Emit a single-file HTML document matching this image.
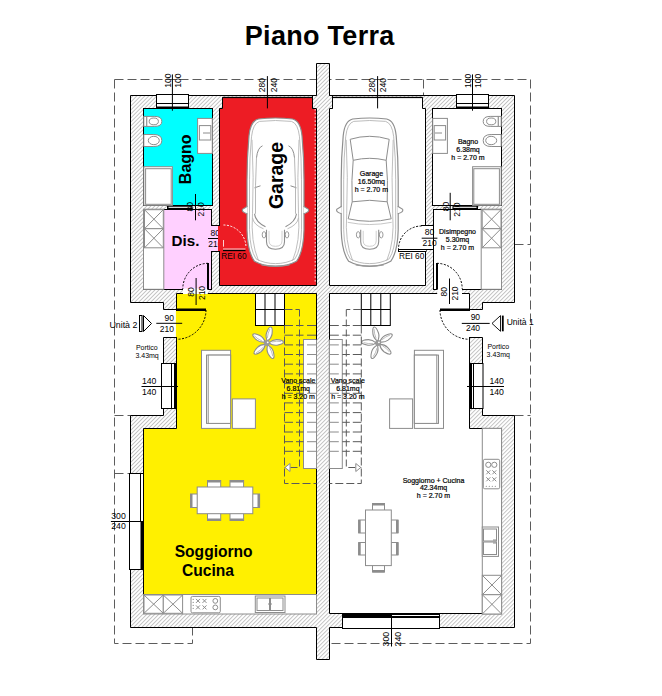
<!DOCTYPE html><html><head><meta charset="utf-8"><style>html,body{margin:0;padding:0;background:#fff;width:662px;height:696px;overflow:hidden}svg{display:block}text{font-family:"Liberation Sans",sans-serif}</style></head><body>
<svg width="662" height="696" viewBox="0 0 662 696">
<defs><clipPath id="cl"><rect x="0" y="0" width="218.2" height="696"/></clipPath><pattern id="h" patternUnits="userSpaceOnUse" width="2.83" height="20" patternTransform="rotate(45)"><rect x="0" y="0" width="0.75" height="20" fill="#b4b4b4"/></pattern></defs>
<rect width="662" height="696" fill="#fff"/>
<text x="244.8" y="44.6" font-size="27" font-weight="bold" text-anchor="start" fill="#000" textLength="149.5" lengthAdjust="spacing">Piano Terra</text>
<path d="M114.5,79.5 H530.5 V643.5 H329.5" stroke="#5c5c5c" stroke-width="1" stroke-dasharray="9,4" fill="none"/>
<path d="M114.5,79.5 V643.5 H192.5 V627.5" stroke="#5c5c5c" stroke-width="1" stroke-dasharray="9,4" fill="none"/>
<path d="M423.5,79.5 V95.5" stroke="#5c5c5c" stroke-width="1" stroke-dasharray="9,4" fill="none"/>
<path d="M114.5,415.5 H130.5 M114.5,473.5 H130.5 M514.5,415.5 H530.5 M514.5,244.5 H530.5" stroke="#5c5c5c" stroke-width="1" stroke-dasharray="9,4" fill="none"/>
<polygon points="323,63.5 316.5,63.5 316.5,95.5 130.5,95.5 130.5,302.5 163.5,302.5 163.5,309.5 176.5,309.5 176.5,337.5 163.5,337.5 163.5,415.5 130.5,415.5 130.5,627.5 316.5,627.5 316.5,659.5 323,659.5 323,659.5 329.5,659.5 329.5,627.5 514.5,627.5 514.5,415.5 482.5,415.5 482.5,337.5 469.5,337.5 469.5,309.5 482.5,309.5 482.5,302.5 514.5,302.5 514.5,95.5 329.5,95.5 329.5,63.5 323,63.5" fill="#fff" stroke="none"/>
<polygon points="323,63.5 316.5,63.5 316.5,95.5 130.5,95.5 130.5,302.5 163.5,302.5 163.5,309.5 176.5,309.5 176.5,337.5 163.5,337.5 163.5,415.5 130.5,415.5 130.5,627.5 316.5,627.5 316.5,659.5 323,659.5 323,659.5 329.5,659.5 329.5,627.5 514.5,627.5 514.5,415.5 482.5,415.5 482.5,337.5 469.5,337.5 469.5,309.5 482.5,309.5 482.5,302.5 514.5,302.5 514.5,95.5 329.5,95.5 329.5,63.5 323,63.5" fill="url(#h)" stroke="#000" stroke-width="1"/>
<polygon points="222.5,97.5 312.5,97.5 312.5,108.5 316.5,108.5 316.5,285.5 219.5,285.5 219.5,108.5 222.5,108.5" fill="#ed1c24" stroke="#000" stroke-width="1"/>
<rect x="222.5" y="95" width="90.0" height="1.2" fill="#000" stroke="none" stroke-width="1" />
<rect x="222.5" y="97" width="90.0" height="1.1" fill="#000" stroke="none" stroke-width="1" />
<rect x="143.5" y="108.5" width="69.0" height="97.0" fill="#00ffff" stroke="#000" stroke-width="1" />
<rect x="143.5" y="209.5" width="68.0" height="80.0" fill="#ffd0ff" stroke="#000" stroke-width="1" />
<rect x="211" y="226" width="7.5" height="25" fill="#ffd0ff" stroke="none" stroke-width="1" />
<rect x="218" y="226" width="3" height="25" fill="#ed1c24" stroke="none" stroke-width="1" />
<line x1="211.5" y1="225.5" x2="219.5" y2="225.5" stroke="#000" stroke-width="1" />
<line x1="211.5" y1="251.5" x2="219.5" y2="251.5" stroke="#000" stroke-width="1" />
<polygon points="176.5,293.5 316.5,293.5 316.5,594.5 143.5,594.5 143.5,428.5 176.5,428.5" fill="#fff000" stroke="#000" stroke-width="1"/>
<rect x="183" y="288.5" width="24.8" height="5.5" fill="#fff" stroke="none" stroke-width="1" />
<polygon points="422.5,97.5 332.5,97.5 332.5,108.5 329.5,108.5 329.5,285.5 425.5,285.5 425.5,108.5 422.5,108.5" fill="#fff" stroke="#000" stroke-width="1"/>
<rect x="332.5" y="95" width="90.0" height="1.2" fill="#000" stroke="none" stroke-width="1" />
<rect x="332.5" y="97" width="90.0" height="1.1" fill="#000" stroke="none" stroke-width="1" />
<rect x="432.5" y="108.5" width="69.0" height="97.0" fill="#fff" stroke="#000" stroke-width="1" />
<rect x="433.5" y="209.5" width="68.0" height="80.0" fill="#fff" stroke="#000" stroke-width="1" />
<rect x="424.5" y="226" width="8.5" height="23" fill="#fff" stroke="none" stroke-width="1" />
<line x1="421" y1="225.5" x2="433.5" y2="225.5" stroke="#000" stroke-width="1" />
<line x1="425.5" y1="249.5" x2="433.5" y2="249.5" stroke="#000" stroke-width="1" />
<polygon points="469.5,293.5 329.5,293.5 329.5,613.5 501.5,613.5 501.5,428.5 469.5,428.5" fill="#fff" stroke="#000" stroke-width="1"/>
<rect x="437.2" y="288.5" width="24.8" height="5.5" fill="#fff" stroke="none" stroke-width="1" />
<rect x="312.5" y="96" width="20" height="12.5" fill="#fff"/>
<rect x="312.5" y="96" width="20" height="12.5" fill="url(#h)"/>
<path d="M316.5,95.5 H312.5 V108.5 H316.5 M329.5,95.5 H332.5 V108.5 H329.5" fill="none" stroke="#000" stroke-width="1"/>
<path d="M315.2,109 V284" fill="none" stroke="#fff" stroke-width="0.9" stroke-dasharray="1.6,2.2"/>
<rect x="156.5" y="94.5" width="32.0" height="13.0" fill="#fff" stroke="#000" stroke-width="1" />
<line x1="156.5" y1="103.5" x2="188.5" y2="103.5" stroke="#000" stroke-width="1" />
<rect x="156.0" y="106.5" width="33.0" height="1.8" fill="#000" stroke="none" stroke-width="1" />
<rect x="456.5" y="94.5" width="32.0" height="13.0" fill="#fff" stroke="#000" stroke-width="1" />
<line x1="456.5" y1="103.5" x2="488.5" y2="103.5" stroke="#000" stroke-width="1" />
<rect x="456.0" y="106.5" width="33.0" height="1.8" fill="#000" stroke="none" stroke-width="1" />
<rect x="161.5" y="363.5" width="15.0" height="45.0" fill="#fff" stroke="#000" stroke-width="1" />
<line x1="171.5" y1="363.5" x2="171.5" y2="408.5" stroke="#000" stroke-width="1" />
<rect x="174" y="363.5" width="3" height="45.0" fill="#000" stroke="none" stroke-width="1" />
<line x1="141.5" y1="386.5" x2="178" y2="386.5" stroke="#000" stroke-width="1" />
<rect x="469.5" y="363.5" width="13.5" height="45.0" fill="#fff" stroke="#000" stroke-width="1" />
<line x1="473.5" y1="363.5" x2="473.5" y2="408.5" stroke="#000" stroke-width="1" />
<rect x="469" y="363.5" width="3" height="45.0" fill="#000" stroke="none" stroke-width="1" />
<line x1="467" y1="386.5" x2="504" y2="386.5" stroke="#000" stroke-width="1" />
<rect x="129.5" y="473.5" width="14.0" height="96.0" fill="#fff" stroke="#000" stroke-width="1" />
<line x1="140.5" y1="473.5" x2="140.5" y2="521.5" stroke="#000" stroke-width="1" />
<line x1="110.9" y1="521.5" x2="143.5" y2="521.5" stroke="#000" stroke-width="1" />
<rect x="140.5" y="521.5" width="3.5" height="48.0" fill="#000" stroke="none" stroke-width="1" />
<rect x="342.5" y="614.5" width="97.0" height="14.0" fill="#fff" stroke="#000" stroke-width="1" />
<rect x="342.5" y="614" width="49.0" height="3.5" fill="#000" stroke="none" stroke-width="1" />
<line x1="391.5" y1="616.5" x2="439.5" y2="616.5" stroke="#000" stroke-width="1" />
<line x1="342.5" y1="617.5" x2="439.5" y2="617.5" stroke="#000" stroke-width="1" />
<line x1="391.5" y1="615" x2="391.5" y2="646.5" stroke="#000" stroke-width="1" />
<rect x="167" y="205" width="25.5" height="4.6" fill="#000" stroke="none" stroke-width="1" />
<line x1="168.5" y1="207.3" x2="191.5" y2="207.3" stroke="#fff" stroke-width="1.1" />
<rect x="452.5" y="205" width="25.5" height="4.6" fill="#000" stroke="none" stroke-width="1" />
<line x1="453.5" y1="207.3" x2="476.5" y2="207.3" stroke="#fff" stroke-width="1.1" />
<path d="M223.5,225 A22.5,22.5 0 0 1 246,247.5" stroke="#fff" fill="none" stroke-width="1" stroke-dasharray="2,1.5"/>
<line x1="223" y1="250.5" x2="245.5" y2="250.5" stroke="#000" stroke-width="1.3" />
<line x1="223" y1="249" x2="245.5" y2="249" stroke="#fff" stroke-width="0.8" />
<path d="M421.5,226 A23,23 0 0 0 398.5,249" stroke="#000" fill="none" stroke-width="1" stroke-dasharray="2,1.5"/>
<rect x="398.5" y="249.5" width="27.5" height="2.0" fill="#fff" stroke="#000" stroke-width="1" />
<rect x="207" y="263" width="2" height="26.5" fill="#000" stroke="none" stroke-width="1" />
<path d="M208,263.3 A25.5,25.5 0 0 0 182.8,289" stroke="#000" fill="none" stroke-width="1" stroke-dasharray="2,1.5"/>
<rect x="436" y="263" width="2" height="26.5" fill="#000" stroke="none" stroke-width="1" />
<path d="M437,263.3 A25.5,25.5 0 0 1 462.2,289" stroke="#000" fill="none" stroke-width="1" stroke-dasharray="2,1.5"/>
<rect x="176.5" y="308.5" width="29.5" height="2.5" fill="#000" stroke="none" stroke-width="1" />
<path d="M206,310 A29.5,29.5 0 0 1 176.8,339.3" stroke="#000" fill="none" stroke-width="1" stroke-dasharray="2,1.5"/>
<rect x="440" y="308.5" width="29.5" height="2.5" fill="#000" stroke="none" stroke-width="1" />
<path d="M440,310 A29.5,29.5 0 0 0 469.2,339.3" stroke="#000" fill="none" stroke-width="1" stroke-dasharray="2,1.5"/>
<rect x="175.9" y="311" width="1.4" height="26" fill="#fff000" stroke="none" stroke-width="1" />
<rect x="468.8" y="311" width="1.4" height="26" fill="#fff" stroke="none" stroke-width="1" />
<rect x="143.8" y="116.4" width="3" height="10" fill="#fff" stroke="#8c8c8c" stroke-width="1"/>
<path d="M146.8,116.4 H154.8 Q161.8,116.4 161.8,121.4 Q161.8,126.4 154.8,126.4 H146.8 Z" fill="#fff" stroke="#8c8c8c" stroke-width="1"/>
<ellipse cx="153.8" cy="121.4" rx="4.6" ry="3.4" fill="#fff" stroke="#8c8c8c" stroke-width="1"/>
<path d="M143.8,134.5 H153.8 Q161.8,134.5 161.8,140.5 Q161.8,146.5 153.8,146.5 H143.8 Z" fill="#fff" stroke="#8c8c8c" stroke-width="1"/>
<ellipse cx="153.8" cy="140.5" rx="5.5" ry="4.2" fill="#fff" stroke="#8c8c8c" stroke-width="1"/>
<rect x="498.2" y="116.4" width="3" height="10" fill="#fff" stroke="#8c8c8c" stroke-width="1"/>
<path d="M498.2,116.4 H490.2 Q483.2,116.4 483.2,121.4 Q483.2,126.4 490.2,126.4 H498.2 Z" fill="#fff" stroke="#8c8c8c" stroke-width="1"/>
<ellipse cx="491.2" cy="121.4" rx="4.6" ry="3.4" fill="#fff" stroke="#8c8c8c" stroke-width="1"/>
<path d="M501.2,134.5 H491.2 Q483.2,134.5 483.2,140.5 Q483.2,146.5 491.2,146.5 H501.2 Z" fill="#fff" stroke="#8c8c8c" stroke-width="1"/>
<ellipse cx="491.2" cy="140.5" rx="5.5" ry="4.2" fill="#fff" stroke="#8c8c8c" stroke-width="1"/>
<rect x="197.6" y="118.4" width="14.7" height="35.0" fill="#fff" stroke="#8c8c8c" stroke-width="1"/>
<rect x="199.4" y="125.6" width="11.4" height="14.4" fill="#fff" stroke="#8c8c8c" stroke-width="1"/>
<line x1="203" y1="133" x2="210" y2="133" stroke="#8c8c8c" stroke-width="1" />
<rect x="432.7" y="118.4" width="14.7" height="35.0" fill="#fff" stroke="#8c8c8c" stroke-width="1"/>
<rect x="434.2" y="125.6" width="11.4" height="14.4" fill="#fff" stroke="#8c8c8c" stroke-width="1"/>
<line x1="435.0" y1="133" x2="442.0" y2="133" stroke="#8c8c8c" stroke-width="1" />
<rect x="143.8" y="166.7" width="28.6" height="38.6" fill="#fff" stroke="#8c8c8c" stroke-width="1"/>
<rect x="145.6" y="168.7" width="25.6" height="35.6" fill="#fff" stroke="#8c8c8c" stroke-width="1"/>
<rect x="472.6" y="166.7" width="28.6" height="38.6" fill="#fff" stroke="#8c8c8c" stroke-width="1"/>
<rect x="473.8" y="168.7" width="25.6" height="35.6" fill="#fff" stroke="#8c8c8c" stroke-width="1"/>
<rect x="143.5" y="209.2" width="20.3" height="80.1" fill="#fff" stroke="#8c8c8c" stroke-width="1"/>
<rect x="144.5" y="209.7" width="18.8" height="19.0" fill="#fff" stroke="#8c8c8c" stroke-width="1"/>
<line x1="144.5" y1="209.7" x2="163.3" y2="228.7" stroke="#8c8c8c" stroke-width="1" />
<line x1="144.5" y1="228.7" x2="163.3" y2="209.7" stroke="#8c8c8c" stroke-width="1" />
<rect x="144.5" y="228.7" width="18.8" height="19.1" fill="#fff" stroke="#8c8c8c" stroke-width="1"/>
<line x1="144.5" y1="228.7" x2="163.3" y2="247.8" stroke="#8c8c8c" stroke-width="1" />
<line x1="144.5" y1="247.8" x2="163.3" y2="228.7" stroke="#8c8c8c" stroke-width="1" />
<rect x="481.2" y="209.2" width="20.3" height="80.1" fill="#fff" stroke="#8c8c8c" stroke-width="1"/>
<rect x="482.2" y="209.7" width="18.8" height="19.0" fill="#fff" stroke="#8c8c8c" stroke-width="1"/>
<line x1="482.2" y1="209.7" x2="501.0" y2="228.7" stroke="#8c8c8c" stroke-width="1" />
<line x1="482.2" y1="228.7" x2="501.0" y2="209.7" stroke="#8c8c8c" stroke-width="1" />
<rect x="482.2" y="228.7" width="18.8" height="19.1" fill="#fff" stroke="#8c8c8c" stroke-width="1"/>
<line x1="482.2" y1="228.7" x2="501.0" y2="247.8" stroke="#8c8c8c" stroke-width="1" />
<line x1="482.2" y1="247.8" x2="501.0" y2="228.7" stroke="#8c8c8c" stroke-width="1" />
<rect x="201.5" y="350.3" width="29.1" height="78.1" fill="#fff" stroke="#8c8c8c" stroke-width="1"/>
<rect x="206.5" y="355.1" width="24.1" height="68.3" fill="#fff" stroke="#8c8c8c" stroke-width="1"/>
<rect x="208.2" y="355.1" width="22.4" height="68.3" fill="#fff" stroke="#8c8c8c" stroke-width="1"/>
<rect x="232.4" y="398.9" width="23.0" height="29.5" fill="#fff" stroke="#8c8c8c" stroke-width="1"/>
<rect x="414.4" y="350.3" width="29.1" height="78.1" fill="#fff" stroke="#8c8c8c" stroke-width="1"/>
<rect x="414.4" y="355.1" width="24.1" height="68.3" fill="#fff" stroke="#8c8c8c" stroke-width="1"/>
<rect x="414.4" y="355.1" width="22.4" height="68.3" fill="#fff" stroke="#8c8c8c" stroke-width="1"/>
<rect x="389.6" y="398.9" width="23.0" height="29.5" fill="#fff" stroke="#8c8c8c" stroke-width="1"/>
<rect x="207.5" y="480.5" width="13.2" height="7.0" fill="#fff" stroke="#8c8c8c" stroke-width="1"/>
<rect x="207.5" y="513.2" width="13.2" height="7.3" fill="#fff" stroke="#8c8c8c" stroke-width="1"/>
<rect x="207.5" y="480" width="13.2" height="2.5" fill="#8c8c8c" stroke="none" stroke-width="1" />
<rect x="207.5" y="518.5" width="13.2" height="2.5" fill="#8c8c8c" stroke="none" stroke-width="1" />
<rect x="230" y="480.5" width="13.6" height="7.0" fill="#fff" stroke="#8c8c8c" stroke-width="1"/>
<rect x="230" y="513.2" width="13.6" height="7.3" fill="#fff" stroke="#8c8c8c" stroke-width="1"/>
<rect x="230" y="480" width="13.6" height="2.5" fill="#8c8c8c" stroke="none" stroke-width="1" />
<rect x="230" y="518.5" width="13.6" height="2.5" fill="#8c8c8c" stroke="none" stroke-width="1" />
<rect x="190.5" y="494" width="7.0" height="13.5" fill="#fff" stroke="#8c8c8c" stroke-width="1"/>
<rect x="252.5" y="494" width="7.1" height="13.5" fill="#fff" stroke="#8c8c8c" stroke-width="1"/>
<rect x="190" y="494" width="2.5" height="13.5" fill="#8c8c8c" stroke="none" stroke-width="1" />
<rect x="257.5" y="494" width="2.5" height="13.5" fill="#8c8c8c" stroke="none" stroke-width="1" />
<rect x="197.2" y="487" width="55.6" height="26.7" fill="#fff" stroke="#8c8c8c" stroke-width="1" />
<rect x="372.5" y="503.5" width="12.0" height="7.0" fill="#fff" stroke="#8c8c8c" stroke-width="1"/>
<rect x="372.5" y="565" width="12.0" height="7" fill="#fff" stroke="#8c8c8c" stroke-width="1"/>
<rect x="372.5" y="503" width="12.0" height="2.5" fill="#8c8c8c" stroke="none" stroke-width="1" />
<rect x="372.5" y="570" width="12.0" height="2.5" fill="#8c8c8c" stroke="none" stroke-width="1" />
<rect x="358.7" y="520" width="7.1" height="13" fill="#fff" stroke="#8c8c8c" stroke-width="1"/>
<rect x="391" y="520" width="7" height="13" fill="#fff" stroke="#8c8c8c" stroke-width="1"/>
<rect x="358.2" y="520" width="2.5" height="13" fill="#8c8c8c" stroke="none" stroke-width="1" />
<rect x="396" y="520" width="2.5" height="13" fill="#8c8c8c" stroke="none" stroke-width="1" />
<rect x="358.7" y="542.5" width="7.1" height="12.5" fill="#fff" stroke="#8c8c8c" stroke-width="1"/>
<rect x="391" y="542.5" width="7" height="12.5" fill="#fff" stroke="#8c8c8c" stroke-width="1"/>
<rect x="358.2" y="542.5" width="2.5" height="12.5" fill="#8c8c8c" stroke="none" stroke-width="1" />
<rect x="396" y="542.5" width="2.5" height="12.5" fill="#8c8c8c" stroke="none" stroke-width="1" />
<rect x="365.5" y="510" width="25.8" height="55.6" fill="#fff" stroke="#8c8c8c" stroke-width="1" />
<rect x="143.5" y="594.5" width="173.0" height="19.5" fill="#fff" stroke="#8c8c8c" stroke-width="1"/>
<rect x="144" y="595" width="19.3" height="18.3" fill="#fff" stroke="#8c8c8c" stroke-width="1"/>
<line x1="144" y1="595" x2="163.3" y2="613.3" stroke="#8c8c8c" stroke-width="1" />
<line x1="144" y1="613.3" x2="163.3" y2="595" stroke="#8c8c8c" stroke-width="1" />
<rect x="163.3" y="595" width="19.3" height="18.3" fill="#fff" stroke="#8c8c8c" stroke-width="1"/>
<line x1="163.3" y1="595" x2="182.6" y2="613.3" stroke="#8c8c8c" stroke-width="1" />
<line x1="163.3" y1="613.3" x2="182.6" y2="595" stroke="#8c8c8c" stroke-width="1" />
<rect x="191" y="596.4" width="29.3" height="16.4" rx="1.5" fill="#fff" stroke="#8c8c8c" stroke-width="1"/>
<path d="M196,598.9 L200,602.9 M196,602.9 L200,598.9" stroke="#8c8c8c" stroke-width="1"/>
<path d="M196,605.4 L200,609.4 M196,609.4 L200,605.4" stroke="#8c8c8c" stroke-width="1"/>
<path d="M202.5,598.9 L206.5,602.9 M202.5,602.9 L206.5,598.9" stroke="#8c8c8c" stroke-width="1"/>
<path d="M202.5,605.4 L206.5,609.4 M202.5,609.4 L206.5,605.4" stroke="#8c8c8c" stroke-width="1"/>
<circle cx="215.3" cy="600.9" r="2.4" fill="#fff" stroke="#8c8c8c" stroke-width="1"/>
<circle cx="215.3" cy="607.4" r="2.4" fill="#fff" stroke="#8c8c8c" stroke-width="1"/>
<circle cx="193.2" cy="599.4" r="0.6" fill="#8c8c8c"/>
<circle cx="193.2" cy="602.4" r="0.6" fill="#8c8c8c"/>
<circle cx="193.2" cy="605.4" r="0.6" fill="#8c8c8c"/>
<circle cx="193.2" cy="608.4" r="0.6" fill="#8c8c8c"/>
<rect x="255.3" y="596" width="29.7" height="16.5" fill="#fff" stroke="#8c8c8c" stroke-width="1"/>
<rect x="257" y="598" width="12.5" height="12.5" fill="#fff" stroke="#8c8c8c" stroke-width="1"/>
<rect x="270.5" y="598" width="12.5" height="12.5" fill="#fff" stroke="#8c8c8c" stroke-width="1"/>
<line x1="268" y1="604" x2="272" y2="604" stroke="#8c8c8c" stroke-width="1" />
<line x1="270" y1="603" x2="270" y2="607" stroke="#8c8c8c" stroke-width="1" />
<rect x="482.3" y="428.3" width="19.3" height="185.7" fill="#fff" stroke="#8c8c8c" stroke-width="1"/>
<rect x="483.3" y="459.3" width="16.4" height="29.5" rx="1.5" fill="#fff" stroke="#8c8c8c" stroke-width="1"/>
<path d="M486.3,470.3 L490.3,474.3 M486.3,474.3 L490.3,470.3" stroke="#8c8c8c" stroke-width="1"/>
<path d="M492.3,470.3 L496.3,474.3 M492.3,474.3 L496.3,470.3" stroke="#8c8c8c" stroke-width="1"/>
<path d="M486.3,477.3 L490.3,481.3 M486.3,481.3 L490.3,477.3" stroke="#8c8c8c" stroke-width="1"/>
<path d="M492.3,477.3 L496.3,481.3 M492.3,481.3 L496.3,477.3" stroke="#8c8c8c" stroke-width="1"/>
<circle cx="488.3" cy="464.8" r="2.6" fill="#fff" stroke="#8c8c8c" stroke-width="1"/>
<circle cx="494.3" cy="464.8" r="2.6" fill="#fff" stroke="#8c8c8c" stroke-width="1"/>
<circle cx="486.3" cy="486.3" r="0.6" fill="#8c8c8c"/>
<circle cx="489.3" cy="486.3" r="0.6" fill="#8c8c8c"/>
<circle cx="492.3" cy="486.3" r="0.6" fill="#8c8c8c"/>
<circle cx="495.3" cy="486.3" r="0.6" fill="#8c8c8c"/>
<rect x="482.3" y="527" width="16.2" height="29.4" fill="#fff" stroke="#8c8c8c" stroke-width="1"/>
<rect x="483.5" y="529" width="13.0" height="12" fill="#fff" stroke="#8c8c8c" stroke-width="1"/>
<rect x="483.5" y="542" width="13.0" height="12.5" fill="#fff" stroke="#8c8c8c" stroke-width="1"/>
<line x1="493" y1="540" x2="497" y2="540" stroke="#8c8c8c" stroke-width="1" />
<line x1="493" y1="543" x2="497" y2="543" stroke="#8c8c8c" stroke-width="1" />
<rect x="482.3" y="575.3" width="19.3" height="19.4" fill="#fff" stroke="#8c8c8c" stroke-width="1"/>
<line x1="482.3" y1="575.3" x2="501.6" y2="594.7" stroke="#8c8c8c" stroke-width="1" />
<line x1="482.3" y1="594.7" x2="501.6" y2="575.3" stroke="#8c8c8c" stroke-width="1" />
<rect x="482.3" y="594.7" width="19.3" height="19.3" fill="#fff" stroke="#8c8c8c" stroke-width="1"/>
<line x1="482.3" y1="594.7" x2="501.6" y2="614" stroke="#8c8c8c" stroke-width="1" />
<line x1="482.3" y1="614" x2="501.6" y2="594.7" stroke="#8c8c8c" stroke-width="1" />
<g transform="translate(266.9,343.1) rotate(-76)"><path d="M2,0 Q6,-3.2 10,-2.8 Q16.5,-2 16.5,0 Q16.5,2 10,2.8 Q6,3.2 2,0 Z" fill="#fff" stroke="#8c8c8c" stroke-width="1.1"/><path d="M5,-0.8 Q10,-1.6 14.5,-0.5" fill="none" stroke="#aaa" stroke-width="0.7"/></g>
<g transform="translate(266.9,343.1) rotate(-4)"><path d="M2,0 Q6,-3.2 10,-2.8 Q16.5,-2 16.5,0 Q16.5,2 10,2.8 Q6,3.2 2,0 Z" fill="#fff" stroke="#8c8c8c" stroke-width="1.1"/><path d="M5,-0.8 Q10,-1.6 14.5,-0.5" fill="none" stroke="#aaa" stroke-width="0.7"/></g>
<g transform="translate(266.9,343.1) rotate(68)"><path d="M2,0 Q6,-3.2 10,-2.8 Q16.5,-2 16.5,0 Q16.5,2 10,2.8 Q6,3.2 2,0 Z" fill="#fff" stroke="#8c8c8c" stroke-width="1.1"/><path d="M5,-0.8 Q10,-1.6 14.5,-0.5" fill="none" stroke="#aaa" stroke-width="0.7"/></g>
<g transform="translate(266.9,343.1) rotate(140)"><path d="M2,0 Q6,-3.2 10,-2.8 Q16.5,-2 16.5,0 Q16.5,2 10,2.8 Q6,3.2 2,0 Z" fill="#fff" stroke="#8c8c8c" stroke-width="1.1"/><path d="M5,-0.8 Q10,-1.6 14.5,-0.5" fill="none" stroke="#aaa" stroke-width="0.7"/></g>
<g transform="translate(266.9,343.1) rotate(212)"><path d="M2,0 Q6,-3.2 10,-2.8 Q16.5,-2 16.5,0 Q16.5,2 10,2.8 Q6,3.2 2,0 Z" fill="#fff" stroke="#8c8c8c" stroke-width="1.1"/><path d="M5,-0.8 Q10,-1.6 14.5,-0.5" fill="none" stroke="#aaa" stroke-width="0.7"/></g>
<circle cx="266.9" cy="343.1" r="3" fill="#999"/><circle cx="267.7" cy="342.3" r="0.9" fill="#fff"/>
<g transform="translate(378.1,343.1) rotate(-104)"><path d="M2,0 Q6,-3.2 10,-2.8 Q16.5,-2 16.5,0 Q16.5,2 10,2.8 Q6,3.2 2,0 Z" fill="#fff" stroke="#8c8c8c" stroke-width="1.1"/><path d="M5,-0.8 Q10,-1.6 14.5,-0.5" fill="none" stroke="#aaa" stroke-width="0.7"/></g>
<g transform="translate(378.1,343.1) rotate(-32)"><path d="M2,0 Q6,-3.2 10,-2.8 Q16.5,-2 16.5,0 Q16.5,2 10,2.8 Q6,3.2 2,0 Z" fill="#fff" stroke="#8c8c8c" stroke-width="1.1"/><path d="M5,-0.8 Q10,-1.6 14.5,-0.5" fill="none" stroke="#aaa" stroke-width="0.7"/></g>
<g transform="translate(378.1,343.1) rotate(40)"><path d="M2,0 Q6,-3.2 10,-2.8 Q16.5,-2 16.5,0 Q16.5,2 10,2.8 Q6,3.2 2,0 Z" fill="#fff" stroke="#8c8c8c" stroke-width="1.1"/><path d="M5,-0.8 Q10,-1.6 14.5,-0.5" fill="none" stroke="#aaa" stroke-width="0.7"/></g>
<g transform="translate(378.1,343.1) rotate(112)"><path d="M2,0 Q6,-3.2 10,-2.8 Q16.5,-2 16.5,0 Q16.5,2 10,2.8 Q6,3.2 2,0 Z" fill="#fff" stroke="#8c8c8c" stroke-width="1.1"/><path d="M5,-0.8 Q10,-1.6 14.5,-0.5" fill="none" stroke="#aaa" stroke-width="0.7"/></g>
<g transform="translate(378.1,343.1) rotate(184)"><path d="M2,0 Q6,-3.2 10,-2.8 Q16.5,-2 16.5,0 Q16.5,2 10,2.8 Q6,3.2 2,0 Z" fill="#fff" stroke="#8c8c8c" stroke-width="1.1"/><path d="M5,-0.8 Q10,-1.6 14.5,-0.5" fill="none" stroke="#aaa" stroke-width="0.7"/></g>
<circle cx="378.1" cy="343.1" r="3" fill="#999"/><circle cx="378.90000000000003" cy="342.3" r="0.9" fill="#fff"/>
<rect x="255.5" y="293.5" width="29.0" height="32.0" fill="#fff" stroke="#000" stroke-width="1" />
<line x1="265" y1="293.5" x2="265" y2="325.5" stroke="#000" stroke-width="1" />
<line x1="275" y1="293.5" x2="275" y2="325.5" stroke="#000" stroke-width="1" />
<line x1="255.5" y1="309.5" x2="284.5" y2="309.5" stroke="#000" stroke-width="1" />
<rect x="303.5" y="339.5" width="13.0" height="129.0" fill="#fff" stroke="#8c8c8c" stroke-width="1" />
<path d="M284.5,309.5 H299.5" stroke="#5a5a5a" stroke-width="1" stroke-dasharray="8,3" fill="none"/>
<path d="M284.5,325.5 V483.5 H316.5" stroke="#5a5a5a" stroke-width="1" stroke-dasharray="8,3" fill="none"/>
<path d="M299.5,309.5 V467.5 H284.5" stroke="#5a5a5a" stroke-width="1" stroke-dasharray="7,3" fill="none"/>
<line x1="284.5" y1="325.5" x2="293" y2="325.5" stroke="#5a5a5a" stroke-width="1" />
<line x1="296" y1="325.5" x2="303.5" y2="325.5" stroke="#5a5a5a" stroke-width="1" />
<line x1="307" y1="325.5" x2="316.5" y2="325.5" stroke="#5a5a5a" stroke-width="1" />
<line x1="284.5" y1="335.2" x2="293" y2="335.2" stroke="#5a5a5a" stroke-width="1" />
<line x1="296" y1="335.2" x2="303.5" y2="335.2" stroke="#5a5a5a" stroke-width="1" />
<line x1="307" y1="335.2" x2="316.5" y2="335.2" stroke="#5a5a5a" stroke-width="1" />
<line x1="284.5" y1="344.9" x2="293" y2="344.9" stroke="#5a5a5a" stroke-width="1" />
<line x1="296" y1="344.9" x2="303.5" y2="344.9" stroke="#5a5a5a" stroke-width="1" />
<line x1="307" y1="344.9" x2="316.5" y2="344.9" stroke="#8c8c8c" stroke-width="1" />
<line x1="284.5" y1="354.5" x2="293" y2="354.5" stroke="#5a5a5a" stroke-width="1" />
<line x1="296" y1="354.5" x2="303.5" y2="354.5" stroke="#5a5a5a" stroke-width="1" />
<line x1="307" y1="354.5" x2="316.5" y2="354.5" stroke="#8c8c8c" stroke-width="1" />
<line x1="284.5" y1="364.2" x2="293" y2="364.2" stroke="#5a5a5a" stroke-width="1" />
<line x1="296" y1="364.2" x2="303.5" y2="364.2" stroke="#5a5a5a" stroke-width="1" />
<line x1="307" y1="364.2" x2="316.5" y2="364.2" stroke="#8c8c8c" stroke-width="1" />
<line x1="284.5" y1="373.9" x2="293" y2="373.9" stroke="#5a5a5a" stroke-width="1" />
<line x1="296" y1="373.9" x2="303.5" y2="373.9" stroke="#5a5a5a" stroke-width="1" />
<line x1="307" y1="373.9" x2="316.5" y2="373.9" stroke="#8c8c8c" stroke-width="1" />
<line x1="284.5" y1="383.6" x2="293" y2="383.6" stroke="#5a5a5a" stroke-width="1" />
<line x1="296" y1="383.6" x2="303.5" y2="383.6" stroke="#5a5a5a" stroke-width="1" />
<line x1="307" y1="383.6" x2="316.5" y2="383.6" stroke="#8c8c8c" stroke-width="1" />
<line x1="284.5" y1="393.3" x2="293" y2="393.3" stroke="#5a5a5a" stroke-width="1" />
<line x1="296" y1="393.3" x2="303.5" y2="393.3" stroke="#5a5a5a" stroke-width="1" />
<line x1="307" y1="393.3" x2="316.5" y2="393.3" stroke="#8c8c8c" stroke-width="1" />
<line x1="284.5" y1="402.9" x2="293" y2="402.9" stroke="#5a5a5a" stroke-width="1" />
<line x1="296" y1="402.9" x2="303.5" y2="402.9" stroke="#5a5a5a" stroke-width="1" />
<line x1="307" y1="402.9" x2="316.5" y2="402.9" stroke="#8c8c8c" stroke-width="1" />
<line x1="284.5" y1="412.6" x2="293" y2="412.6" stroke="#5a5a5a" stroke-width="1" />
<line x1="296" y1="412.6" x2="303.5" y2="412.6" stroke="#5a5a5a" stroke-width="1" />
<line x1="307" y1="412.6" x2="316.5" y2="412.6" stroke="#8c8c8c" stroke-width="1" />
<line x1="284.5" y1="422.3" x2="293" y2="422.3" stroke="#5a5a5a" stroke-width="1" />
<line x1="296" y1="422.3" x2="303.5" y2="422.3" stroke="#5a5a5a" stroke-width="1" />
<line x1="307" y1="422.3" x2="316.5" y2="422.3" stroke="#8c8c8c" stroke-width="1" />
<line x1="284.5" y1="432.0" x2="293" y2="432.0" stroke="#5a5a5a" stroke-width="1" />
<line x1="296" y1="432.0" x2="303.5" y2="432.0" stroke="#5a5a5a" stroke-width="1" />
<line x1="307" y1="432.0" x2="316.5" y2="432.0" stroke="#8c8c8c" stroke-width="1" />
<line x1="284.5" y1="441.7" x2="293" y2="441.7" stroke="#5a5a5a" stroke-width="1" />
<line x1="296" y1="441.7" x2="303.5" y2="441.7" stroke="#5a5a5a" stroke-width="1" />
<line x1="307" y1="441.7" x2="316.5" y2="441.7" stroke="#8c8c8c" stroke-width="1" />
<line x1="284.5" y1="451.3" x2="293" y2="451.3" stroke="#5a5a5a" stroke-width="1" />
<line x1="296" y1="451.3" x2="303.5" y2="451.3" stroke="#5a5a5a" stroke-width="1" />
<line x1="307" y1="451.3" x2="316.5" y2="451.3" stroke="#8c8c8c" stroke-width="1" />
<path d="M285,467.5 L290,463.5 L290,471.5 Z" fill="#fff" stroke="#8c8c8c" stroke-width="1"/>
<rect x="361.3" y="293.5" width="29.0" height="32.0" fill="#fff" stroke="#000" stroke-width="1" />
<line x1="380.8" y1="293.5" x2="380.8" y2="325.5" stroke="#000" stroke-width="1" />
<line x1="370.8" y1="293.5" x2="370.8" y2="325.5" stroke="#000" stroke-width="1" />
<line x1="361.3" y1="309.5" x2="390.3" y2="309.5" stroke="#000" stroke-width="1" />
<rect x="329.3" y="339.5" width="13.0" height="129.0" fill="#fff" stroke="#8c8c8c" stroke-width="1" />
<path d="M361.3,309.5 H346.3" stroke="#5a5a5a" stroke-width="1" stroke-dasharray="8,3" fill="none"/>
<path d="M361.3,325.5 V483.5 H329.3" stroke="#5a5a5a" stroke-width="1" stroke-dasharray="8,3" fill="none"/>
<path d="M346.3,309.5 V467.5 H361.3" stroke="#5a5a5a" stroke-width="1" stroke-dasharray="7,3" fill="none"/>
<line x1="361.3" y1="325.5" x2="352.8" y2="325.5" stroke="#5a5a5a" stroke-width="1" />
<line x1="349.8" y1="325.5" x2="342.3" y2="325.5" stroke="#5a5a5a" stroke-width="1" />
<line x1="338.8" y1="325.5" x2="329.3" y2="325.5" stroke="#5a5a5a" stroke-width="1" />
<line x1="361.3" y1="335.2" x2="352.8" y2="335.2" stroke="#5a5a5a" stroke-width="1" />
<line x1="349.8" y1="335.2" x2="342.3" y2="335.2" stroke="#5a5a5a" stroke-width="1" />
<line x1="338.8" y1="335.2" x2="329.3" y2="335.2" stroke="#5a5a5a" stroke-width="1" />
<line x1="361.3" y1="344.9" x2="352.8" y2="344.9" stroke="#5a5a5a" stroke-width="1" />
<line x1="349.8" y1="344.9" x2="342.3" y2="344.9" stroke="#5a5a5a" stroke-width="1" />
<line x1="338.8" y1="344.9" x2="329.3" y2="344.9" stroke="#8c8c8c" stroke-width="1" />
<line x1="361.3" y1="354.5" x2="352.8" y2="354.5" stroke="#5a5a5a" stroke-width="1" />
<line x1="349.8" y1="354.5" x2="342.3" y2="354.5" stroke="#5a5a5a" stroke-width="1" />
<line x1="338.8" y1="354.5" x2="329.3" y2="354.5" stroke="#8c8c8c" stroke-width="1" />
<line x1="361.3" y1="364.2" x2="352.8" y2="364.2" stroke="#5a5a5a" stroke-width="1" />
<line x1="349.8" y1="364.2" x2="342.3" y2="364.2" stroke="#5a5a5a" stroke-width="1" />
<line x1="338.8" y1="364.2" x2="329.3" y2="364.2" stroke="#8c8c8c" stroke-width="1" />
<line x1="361.3" y1="373.9" x2="352.8" y2="373.9" stroke="#5a5a5a" stroke-width="1" />
<line x1="349.8" y1="373.9" x2="342.3" y2="373.9" stroke="#5a5a5a" stroke-width="1" />
<line x1="338.8" y1="373.9" x2="329.3" y2="373.9" stroke="#8c8c8c" stroke-width="1" />
<line x1="361.3" y1="383.6" x2="352.8" y2="383.6" stroke="#5a5a5a" stroke-width="1" />
<line x1="349.8" y1="383.6" x2="342.3" y2="383.6" stroke="#5a5a5a" stroke-width="1" />
<line x1="338.8" y1="383.6" x2="329.3" y2="383.6" stroke="#8c8c8c" stroke-width="1" />
<line x1="361.3" y1="393.3" x2="352.8" y2="393.3" stroke="#5a5a5a" stroke-width="1" />
<line x1="349.8" y1="393.3" x2="342.3" y2="393.3" stroke="#5a5a5a" stroke-width="1" />
<line x1="338.8" y1="393.3" x2="329.3" y2="393.3" stroke="#8c8c8c" stroke-width="1" />
<line x1="361.3" y1="402.9" x2="352.8" y2="402.9" stroke="#5a5a5a" stroke-width="1" />
<line x1="349.8" y1="402.9" x2="342.3" y2="402.9" stroke="#5a5a5a" stroke-width="1" />
<line x1="338.8" y1="402.9" x2="329.3" y2="402.9" stroke="#8c8c8c" stroke-width="1" />
<line x1="361.3" y1="412.6" x2="352.8" y2="412.6" stroke="#5a5a5a" stroke-width="1" />
<line x1="349.8" y1="412.6" x2="342.3" y2="412.6" stroke="#5a5a5a" stroke-width="1" />
<line x1="338.8" y1="412.6" x2="329.3" y2="412.6" stroke="#8c8c8c" stroke-width="1" />
<line x1="361.3" y1="422.3" x2="352.8" y2="422.3" stroke="#5a5a5a" stroke-width="1" />
<line x1="349.8" y1="422.3" x2="342.3" y2="422.3" stroke="#5a5a5a" stroke-width="1" />
<line x1="338.8" y1="422.3" x2="329.3" y2="422.3" stroke="#8c8c8c" stroke-width="1" />
<line x1="361.3" y1="432.0" x2="352.8" y2="432.0" stroke="#5a5a5a" stroke-width="1" />
<line x1="349.8" y1="432.0" x2="342.3" y2="432.0" stroke="#5a5a5a" stroke-width="1" />
<line x1="338.8" y1="432.0" x2="329.3" y2="432.0" stroke="#8c8c8c" stroke-width="1" />
<line x1="361.3" y1="441.7" x2="352.8" y2="441.7" stroke="#5a5a5a" stroke-width="1" />
<line x1="349.8" y1="441.7" x2="342.3" y2="441.7" stroke="#5a5a5a" stroke-width="1" />
<line x1="338.8" y1="441.7" x2="329.3" y2="441.7" stroke="#8c8c8c" stroke-width="1" />
<line x1="361.3" y1="451.3" x2="352.8" y2="451.3" stroke="#5a5a5a" stroke-width="1" />
<line x1="349.8" y1="451.3" x2="342.3" y2="451.3" stroke="#5a5a5a" stroke-width="1" />
<line x1="338.8" y1="451.3" x2="329.3" y2="451.3" stroke="#8c8c8c" stroke-width="1" />
<path d="M360.8,467.5 L355.8,463.5 L355.8,471.5 Z" fill="#fff" stroke="#8c8c8c" stroke-width="1"/>
<line x1="316.5" y1="293.5" x2="316.5" y2="339.6" stroke="#000" stroke-width="1" />
<line x1="329.5" y1="293.5" x2="329.5" y2="339.6" stroke="#000" stroke-width="1" />
<path d="M258.5,119.0 Q275.5,117.0 292.5,119.0 Q300.5,120.8 302.0,135.8 Q304.0,157.8 304.0,179.8 L304.0,229.8 Q303.5,251.8 296.5,261.3 Q287.5,266.3 275.5,266.3 Q263.5,266.3 254.5,261.3 Q247.5,251.8 247.0,229.8 L247.0,179.8 Q247.0,157.8 249.0,135.8 Q250.5,120.8 258.5,119.0 Z" fill="#fff" stroke="#8e8e8e" stroke-width="1.2"/>
<path d="M259.5,121.4 Q275.5,119.6 291.5,121.4 Q298.0,123.3 299.5,136.8 Q301.5,157.8 301.5,179.8 L301.5,229.8 Q301.0,249.8 295.0,258.8 Q286.5,263.6 275.5,263.6 Q264.5,263.6 256.0,258.8 Q250.0,249.8 249.5,229.8 L249.5,179.8 Q249.5,157.8 251.5,136.8 Q253.0,123.3 259.5,121.4 Z" fill="none" stroke="#b4b4b4" stroke-width="0.9"/>
<path d="M262.5,145.8 Q257.5,147.8 256.5,157.8 M288.5,145.8 Q293.5,147.8 294.5,157.8" fill="none" stroke="#8e8e8e" stroke-width="1"/>
<path d="M254.5,187.8 L260.5,185.8 M296.5,187.8 L290.5,185.8" fill="none" stroke="#8e8e8e" stroke-width="1"/>
<path d="M256.5,157.8 Q255.0,185.8 255.5,213.8 M294.5,157.8 Q296.0,185.8 295.5,213.8" fill="none" stroke="#b0b0b0" stroke-width="0.9"/>
<path d="M254.5,213.8 Q255.5,221.8 265.5,226.8 M296.5,213.8 Q295.5,221.8 285.5,226.8" fill="none" stroke="#8e8e8e" stroke-width="1.1"/>
<path d="M252.5,217.8 Q253.5,224.8 263.5,228.8 M298.5,217.8 Q297.5,224.8 287.5,228.8" fill="none" stroke="#b4b4b4" stroke-width="0.9"/>
<path d="M252.0,139.8 Q254.0,177.8 252.5,213.8 Q250.5,241.8 258.5,260.8 M299.0,139.8 Q297.0,177.8 298.5,213.8 Q300.5,241.8 292.5,260.8" fill="none" stroke="#b8b8b8" stroke-width="0.9"/>
<path d="M247.5,206.3 L242.5,209.3 Q241.5,212.3 247.5,213.8 M303.5,206.3 L308.5,209.3 Q309.5,212.3 303.5,213.8" fill="#fff" stroke="#8e8e8e" stroke-width="1.1"/>
<path d="M266.5,229.8 L266.5,241.8 Q266.5,249.3 275.5,249.3 Q284.5,249.3 284.5,241.8 L284.5,229.8" fill="none" stroke="#8e8e8e" stroke-width="1.1"/>
<path d="M269.0,230.8 L269.0,240.8 Q269.0,246.3 275.5,246.3 Q282.0,246.3 282.0,240.8 L282.0,230.8" fill="none" stroke="#c4c4c4" stroke-width="0.8"/>
<ellipse cx="264.0" cy="234.8" rx="1.8" ry="3.2" fill="none" stroke="#8e8e8e" stroke-width="0.9"/>
<ellipse cx="287.0" cy="234.8" rx="1.8" ry="3.2" fill="none" stroke="#8e8e8e" stroke-width="0.9"/>
<path d="M261.5,264.8 Q275.5,267.3 289.5,264.8" fill="none" stroke="#999" stroke-width="1.3"/>
<path d="M352.7,119.0 Q369.7,117.0 386.7,119.0 Q394.7,120.8 396.2,135.8 Q398.2,157.8 398.2,179.8 L398.2,229.8 Q397.7,251.8 390.7,261.3 Q381.7,266.3 369.7,266.3 Q357.7,266.3 348.7,261.3 Q341.7,251.8 341.2,229.8 L341.2,179.8 Q341.2,157.8 343.2,135.8 Q344.7,120.8 352.7,119.0 Z" fill="#fff" stroke="#8e8e8e" stroke-width="1.2"/>
<path d="M353.7,121.4 Q369.7,119.6 385.7,121.4 Q392.2,123.3 393.7,136.8 Q395.7,157.8 395.7,179.8 L395.7,229.8 Q395.2,249.8 389.2,258.8 Q380.7,263.6 369.7,263.6 Q358.7,263.6 350.2,258.8 Q344.2,249.8 343.7,229.8 L343.7,179.8 Q343.7,157.8 345.7,136.8 Q347.2,123.3 353.7,121.4 Z" fill="none" stroke="#b4b4b4" stroke-width="0.9"/>
<path d="M350.2,139.3 Q369.7,133.3 389.2,139.3 L386.2,160.3 Q369.7,156.3 353.2,160.3 Z" fill="none" stroke="#8e8e8e" stroke-width="1"/>
<path d="M353.2,160.3 Q351.2,179.8 352.2,201.8 M386.2,160.3 Q388.2,179.8 387.2,201.8" fill="none" stroke="#8e8e8e" stroke-width="1"/>
<path d="M352.2,201.8 Q369.7,198.8 387.2,201.8 L391.2,218.8 Q369.7,223.8 348.2,218.8 Z" fill="none" stroke="#8e8e8e" stroke-width="1"/>
<path d="M347.7,222.3 Q369.7,226.8 391.7,222.3" fill="none" stroke="#c0c0c0" stroke-width="0.9"/>
<path d="M346.2,139.8 Q348.2,177.8 346.7,213.8 Q344.7,241.8 352.7,260.8 M393.2,139.8 Q391.2,177.8 392.7,213.8 Q394.7,241.8 386.7,260.8" fill="none" stroke="#b8b8b8" stroke-width="0.9"/>
<path d="M341.7,206.3 L336.7,209.3 Q335.7,212.3 341.7,213.8 M397.7,206.3 L402.7,209.3 Q403.7,212.3 397.7,213.8" fill="#fff" stroke="#8e8e8e" stroke-width="1.1"/>
<path d="M360.7,229.8 L360.7,241.8 Q360.7,249.3 369.7,249.3 Q378.7,249.3 378.7,241.8 L378.7,229.8" fill="none" stroke="#8e8e8e" stroke-width="1.1"/>
<path d="M363.2,230.8 L363.2,240.8 Q363.2,246.3 369.7,246.3 Q376.2,246.3 376.2,240.8 L376.2,230.8" fill="none" stroke="#c4c4c4" stroke-width="0.8"/>
<ellipse cx="358.2" cy="234.8" rx="1.8" ry="3.2" fill="none" stroke="#8e8e8e" stroke-width="0.9"/>
<ellipse cx="381.2" cy="234.8" rx="1.8" ry="3.2" fill="none" stroke="#8e8e8e" stroke-width="0.9"/>
<path d="M355.7,264.8 Q369.7,267.3 383.7,264.8" fill="none" stroke="#999" stroke-width="1.3"/>
<line x1="172.4" y1="74.4" x2="172.4" y2="110.7" stroke="#000" stroke-width="1" />
<text transform="translate(170.8,80.6) rotate(-90)" font-size="8.5" font-weight="normal" text-anchor="middle" fill="#000">100</text>
<text transform="translate(181.3,80.6) rotate(-90)" font-size="8.5" font-weight="normal" text-anchor="middle" fill="#000">100</text>
<line x1="472.5" y1="74.4" x2="472.5" y2="110.7" stroke="#000" stroke-width="1" />
<text transform="translate(470.6,80.9) rotate(-90)" font-size="8.5" font-weight="normal" text-anchor="middle" fill="#000">100</text>
<text transform="translate(481.4,80.9) rotate(-90)" font-size="8.5" font-weight="normal" text-anchor="middle" fill="#000">100</text>
<line x1="267.4" y1="76.1" x2="267.4" y2="108.4" stroke="#000" stroke-width="1" />
<text transform="translate(265.4,85.2) rotate(-90)" font-size="8.5" font-weight="normal" text-anchor="middle" fill="#000">280</text>
<text transform="translate(276.9,85.2) rotate(-90)" font-size="8.5" font-weight="normal" text-anchor="middle" fill="#000">240</text>
<line x1="377.6" y1="76.1" x2="377.6" y2="108.4" stroke="#000" stroke-width="1" />
<text transform="translate(375.1,85.2) rotate(-90)" font-size="8.5" font-weight="normal" text-anchor="middle" fill="#000">280</text>
<text transform="translate(385.9,85.2) rotate(-90)" font-size="8.5" font-weight="normal" text-anchor="middle" fill="#000">240</text>
<text transform="translate(191.1,159.25) rotate(-90)" font-size="16" font-weight="bold" text-anchor="middle" fill="#000">Bagno</text>
<text transform="translate(283.2,175.5) rotate(-90)" font-size="19.5" font-weight="bold" text-anchor="middle" fill="#000">Garage</text>
<text x="171.6" y="245.6" font-size="15.2" font-weight="bold" text-anchor="start" fill="#000" >Dis.</text>
<text x="174.7" y="556.6" font-size="15.6" font-weight="bold" text-anchor="start" fill="#000" >Soggiorno</text>
<text x="182" y="575.5" font-size="15.6" font-weight="bold" text-anchor="start" fill="#000" >Cucina</text>
<text x="221.2" y="258.8" font-size="8.3" font-weight="normal" text-anchor="start" fill="#000" >REI 60</text>
<text x="398.9" y="259.2" font-size="8.3" font-weight="normal" text-anchor="start" fill="#000" >REI 60</text>
<text x="215.3" y="235.8" font-size="8.5" font-weight="normal" text-anchor="middle" fill="#000" clip-path="url(#cl)">80</text>
<line x1="208" y1="238.5" x2="218.2" y2="238.5" stroke="#000" stroke-width="1" />
<text x="215.3" y="247.2" font-size="8.5" font-weight="normal" text-anchor="middle" fill="#000" clip-path="url(#cl)">210</text>
<rect x="218.2" y="226" width="2.8" height="25" fill="#ed1c24" stroke="none" stroke-width="1" />
<line x1="223.5" y1="240" x2="223.5" y2="246.7" stroke="#fff" stroke-width="0.8" />
<text x="429.6" y="235.3" font-size="8.5" font-weight="normal" text-anchor="middle" fill="#000" >80</text>
<line x1="421.7" y1="238.2" x2="437.4" y2="238.2" stroke="#000" stroke-width="1" />
<text x="429.6" y="246.4" font-size="8.5" font-weight="normal" text-anchor="middle" fill="#000" >210</text>
<line x1="195.5" y1="194" x2="195.5" y2="220.3" stroke="#000" stroke-width="1" />
<text transform="translate(192.5,206.8) rotate(-90)" font-size="8.5" font-weight="normal" text-anchor="middle" fill="#000">80</text>
<text transform="translate(204.2,209.3) rotate(-90)" font-size="8.5" font-weight="normal" text-anchor="middle" fill="#000">210</text>
<line x1="450.2" y1="192.8" x2="450.2" y2="220.3" stroke="#000" stroke-width="1" />
<text transform="translate(448.6,206.6) rotate(-90)" font-size="8.5" font-weight="normal" text-anchor="middle" fill="#000">80</text>
<text transform="translate(459.5,209.6) rotate(-90)" font-size="8.5" font-weight="normal" text-anchor="middle" fill="#000">210</text>
<line x1="196.1" y1="278" x2="196.1" y2="305" stroke="#000" stroke-width="1" />
<text transform="translate(194,291.9) rotate(-90)" font-size="8.5" font-weight="normal" text-anchor="middle" fill="#000">80</text>
<text transform="translate(205.3,293) rotate(-90)" font-size="8.5" font-weight="normal" text-anchor="middle" fill="#000">210</text>
<line x1="449.5" y1="278.5" x2="449.5" y2="304" stroke="#000" stroke-width="1" />
<text transform="translate(447.3,291.8) rotate(-90)" font-size="8.5" font-weight="normal" text-anchor="middle" fill="#000">80</text>
<text transform="translate(458.2,293.5) rotate(-90)" font-size="8.5" font-weight="normal" text-anchor="middle" fill="#000">210</text>
<text x="174" y="320.6" font-size="8.5" font-weight="normal" text-anchor="end" fill="#000" >90</text>
<line x1="156.3" y1="323.3" x2="182.2" y2="323.3" stroke="#000" stroke-width="1" />
<text x="174" y="332" font-size="8.5" font-weight="normal" text-anchor="end" fill="#000" >210</text>
<text x="480.1" y="320.4" font-size="8.5" font-weight="normal" text-anchor="end" fill="#000" >90</text>
<line x1="461.8" y1="323.4" x2="489.7" y2="323.4" stroke="#000" stroke-width="1" />
<text x="480.1" y="331.3" font-size="8.5" font-weight="normal" text-anchor="end" fill="#000" >240</text>
<rect x="139.5" y="315.5" width="2.5" height="16.0" fill="#fff" stroke="#000" stroke-width="1" />
<path d="M143.5,315.5 L151.5,323.5 L143.5,331.5 Z" fill="#fff" stroke="#000" stroke-width="1"/>
<text x="137.4" y="328" font-size="9.6" font-weight="normal" text-anchor="end" fill="#000" textLength="28" lengthAdjust="spacingAndGlyphs">Unità 2</text>
<rect x="501.9" y="315.6" width="1.8" height="15.7" fill="#000" stroke="none" stroke-width="1" />
<path d="M500.5,315.6 L492,323.4 L500.5,331.3 Z" fill="#fff" stroke="#000" stroke-width="0.9"/>
<text x="506.7" y="325.1" font-size="9.8" font-weight="normal" text-anchor="start" fill="#000" textLength="27" lengthAdjust="spacingAndGlyphs">Unità 1</text>
<text x="146.8" y="349.6" font-size="7" font-weight="normal" text-anchor="middle" fill="#000" >Portico</text>
<text x="147.1" y="358" font-size="7" font-weight="normal" text-anchor="middle" fill="#000" >3.43mq</text>
<text x="498.3" y="349.3" font-size="7" font-weight="normal" text-anchor="middle" fill="#000" >Portico</text>
<text x="498.3" y="357.3" font-size="7" font-weight="normal" text-anchor="middle" fill="#000" >3.43mq</text>
<text x="149.2" y="383.5" font-size="8.7" font-weight="normal" text-anchor="middle" fill="#000" >140</text>
<text x="149.2" y="395" font-size="8.7" font-weight="normal" text-anchor="middle" fill="#000" >140</text>
<text x="496.7" y="383.5" font-size="8.7" font-weight="normal" text-anchor="middle" fill="#000" >140</text>
<text x="496.7" y="395" font-size="8.7" font-weight="normal" text-anchor="middle" fill="#000" >140</text>
<text x="118.5" y="518.6" font-size="8.7" font-weight="normal" text-anchor="middle" fill="#000" >300</text>
<text x="118.5" y="529.4" font-size="8.7" font-weight="normal" text-anchor="middle" fill="#000" >240</text>
<text transform="translate(389,639.2) rotate(-90)" font-size="8.7" font-weight="normal" text-anchor="middle" fill="#000">300</text>
<text transform="translate(400.5,639.2) rotate(-90)" font-size="8.7" font-weight="normal" text-anchor="middle" fill="#000">240</text>
<text x="371.4" y="175.8" font-size="7" font-weight="normal" text-anchor="middle" fill="#000" stroke="#000" stroke-width="0.2">Garage</text>
<text x="371.4" y="183.9" font-size="7" font-weight="normal" text-anchor="middle" fill="#000" stroke="#000" stroke-width="0.2">16.50mq</text>
<text x="371.4" y="192.0" font-size="7" font-weight="normal" text-anchor="middle" fill="#000" stroke="#000" stroke-width="0.2">h = 2.70 m</text>
<text x="468" y="144.0" font-size="7" font-weight="normal" text-anchor="middle" fill="#000" stroke="#000" stroke-width="0.2">Bagno</text>
<text x="468" y="151.9" font-size="7" font-weight="normal" text-anchor="middle" fill="#000" stroke="#000" stroke-width="0.2">6.38mq</text>
<text x="468" y="159.8" font-size="7" font-weight="normal" text-anchor="middle" fill="#000" stroke="#000" stroke-width="0.2">h = 2.70 m</text>
<text x="457.5" y="233.8" font-size="7" font-weight="normal" text-anchor="middle" fill="#000" stroke="#000" stroke-width="0.2">Disimpegno</text>
<text x="457.5" y="241.9" font-size="7" font-weight="normal" text-anchor="middle" fill="#000" stroke="#000" stroke-width="0.2">5.30mq</text>
<text x="457.5" y="250.0" font-size="7" font-weight="normal" text-anchor="middle" fill="#000" stroke="#000" stroke-width="0.2">h = 2.70 m</text>
<text x="298.3" y="383.0" font-size="7" font-weight="normal" text-anchor="middle" fill="#000" stroke="#000" stroke-width="0.2">Vano scale</text>
<text x="298.3" y="390.85" font-size="7" font-weight="normal" text-anchor="middle" fill="#000" stroke="#000" stroke-width="0.2">6.81mq</text>
<text x="298.3" y="398.7" font-size="7" font-weight="normal" text-anchor="middle" fill="#000" stroke="#000" stroke-width="0.2">h = 3.20 m</text>
<text x="347.9" y="383.0" font-size="7" font-weight="normal" text-anchor="middle" fill="#000" stroke="#000" stroke-width="0.2">Vano scale</text>
<text x="347.9" y="390.85" font-size="7" font-weight="normal" text-anchor="middle" fill="#000" stroke="#000" stroke-width="0.2">6.81mq</text>
<text x="347.9" y="398.7" font-size="7" font-weight="normal" text-anchor="middle" fill="#000" stroke="#000" stroke-width="0.2">h = 3.20 m</text>
<text x="433.5" y="482.5" font-size="7" font-weight="normal" text-anchor="middle" fill="#000" stroke="#000" stroke-width="0.2">Soggiorno + Cucina</text>
<text x="433.5" y="490.25" font-size="7" font-weight="normal" text-anchor="middle" fill="#000" stroke="#000" stroke-width="0.2">42.34mq</text>
<text x="433.5" y="498.0" font-size="7" font-weight="normal" text-anchor="middle" fill="#000" stroke="#000" stroke-width="0.2">h = 2.70 m</text>
</svg></body></html>
